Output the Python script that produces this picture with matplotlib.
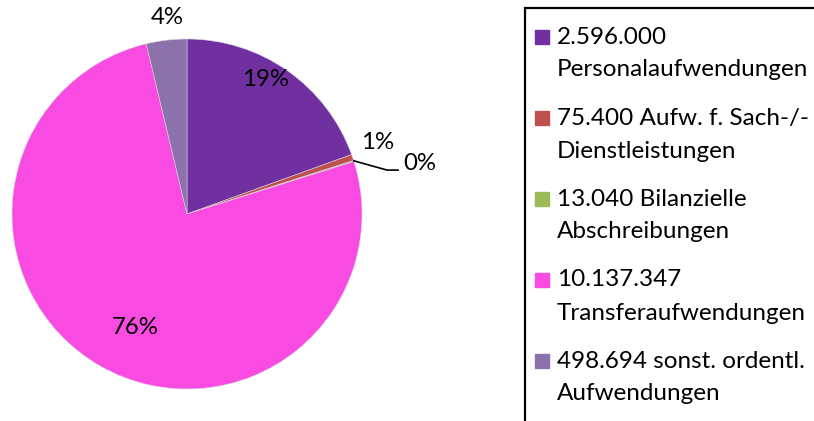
import matplotlib.pyplot as plt
from matplotlib.patches import Rectangle

plt.rcParams['font.family'] = ['Lato', 'DejaVu Sans']

values = [2596000, 75400, 13040, 10137347, 498694]
legend_labels = ['2.596.000\nPersonalaufwendungen',
                 '75.400 Aufw. f. Sach-/-\nDienstleistungen',
                 '13.040 Bilanzielle\nAbschreibungen',
                 '10.137.347\nTransferaufwendungen',
                 '498.694 sonst. ordentl.\nAufwendungen']
colors = ['#7030A0', '#C0504D', '#9BBB59', '#F94BE1', '#8B72AB']
# label positions (in pie-radius units)
label_pos = [(0.446, 0.766), (1.091, 0.411), (1.33, 0.291), (-0.297, -0.651), (-0.114, 1.12)]

W, H = 814, 421
fig = plt.figure(figsize=(W / 100, H / 100), dpi=100)

# pie centre (187, 214) px, radius 175 px
cx, cy, r = 187, 214, 175
ax = fig.add_axes([(cx - r) / W, (H - cy - r) / H, 2 * r / W, 2 * r / H])
wedges, _ = ax.pie(values, colors=colors, startangle=90, counterclock=False,
                   radius=1, wedgeprops=dict(edgecolor='#d8d0e0', linewidth=0.4))
ax.set_xlim(-1, 1)
ax.set_ylim(-1, 1)
ax.set_aspect('equal')
ax.axis('off')

total = sum(values)
for v, (x, y) in zip(values, label_pos):
    ax.text(x, y, '{:.0f}%'.format(100 * v / total), ha='center', va='center',
            fontsize=17.3, clip_on=False)

# leader line for the tiny 0% slice
ax.plot([0.953, 1.143, 1.206], [0.304, 0.251, 0.251], color='black', lw=1.2,
        clip_on=False)

# legend box, running off the right and bottom edge
fig.patches.append(Rectangle((525 / W, -0.1), 0.5, (H - 8) / H + 0.1,
                             transform=fig.transFigure, fill=False,
                             edgecolor='black', linewidth=1.6))
entry_top = 37
for i, (lab, c) in enumerate(zip(legend_labels, colors)):
    y0 = entry_top + i * 81
    fig.patches.append(Rectangle((535 / W, (H - y0 - 7) / H), 14 / W, 14 / H,
                                 transform=fig.transFigure, color=c))
    lines = lab.split('\n')
    for j, line in enumerate(lines):
        fig.text(557 / W, (H - y0 - j * 33) / H, line, ha='left', va='center',
                 fontsize=17.5)

fig.savefig('out.png', dpi=100)
